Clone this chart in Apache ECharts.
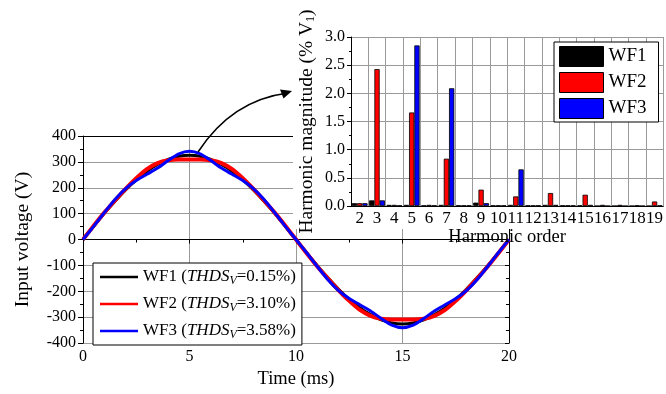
<!DOCTYPE html>
<html>
<head>
<meta charset="utf-8">
<script src="https://cdn.jsdelivr.net/npm/echarts@6/dist/echarts.min.js"></script>
<style>
html,body{margin:0;padding:0;background:#fff;}
#c{width:666px;height:394px;}
</style>
</head>
<body>
<div id="c"></div>
<script>
// ---- Main waveform data (time in ms, voltage in V) ----
const time = [0,0.5,1,1.5,2,2.5,3,3.5,4,4.5,5,5.5,6,6.5,7,7.5,8,8.5,9,9.5,10,
              10.5,11,11.5,12,12.5,13,13.5,14,14.5,15,15.5,16,16.5,17,17.5,18,18.5,19,19.5,20];
const wf1 = [0,51,101,148,192,231,264,290,310,322,326,322,310,290,264,231,192,148,101,51,0,
             -51,-101,-148,-192,-231,-264,-290,-310,-322,-326,-322,-310,-290,-264,-231,-192,-148,-101,-51,0];
const wf2 = [0,53,104,151,196,237,272,295,306,309,309,309,306,295,272,237,196,151,104,53,0,
             -53,-104,-151,-196,-237,-272,-295,-306,-309,-309,-309,-306,-295,-272,-237,-196,-151,-104,-53,0];
const wf3 = [0,51,104,155,197,228,252,276,305,331,341,331,305,276,252,228,197,155,104,51,0,
             -51,-104,-155,-197,-228,-252,-276,-305,-331,-341,-331,-305,-276,-252,-228,-197,-155,-104,-51,0];
const waveNames = ['WF1','WF2','WF3'];
const thdValues = ['0.15%','3.10%','3.58%'];

// ---- Inset harmonic spectrum (% of V1) ----
const harmonicOrders = ['2','3','4','5','6','7','8','9','10','11','12','13','14','15','16','17','18','19'];
const hWF1 = [0.05,0.10,0.02,0.02,0.01,0.02,0.01,0.06,0.01,0.02,0.01,0.02,0.01,0.01,0.00,0.00,0.00,0.00];
const hWF2 = [0.05,2.43,0.02,1.66,0.02,0.84,0.01,0.29,0.01,0.17,0.01,0.23,0.01,0.20,0.02,0.02,0.01,0.08];
const hWF3 = [0.05,0.10,0.01,2.85,0.01,2.09,0.01,0.05,0.01,0.65,0.01,0.02,0.01,0.02,0.00,0.00,0.00,0.01];

const colors = ['#000000','#ff0000','#0000ff'];
const FONT = "'Liberation Serif','Times New Roman',serif";

const chart = echarts.init(document.getElementById('c'), null, {renderer:'canvas'});

const lineData = [wf1, wf2, wf3].map(arr => arr.map((v, i) => [time[i], v]));
const lineNames = waveNames.map((n, i) => n + ' (THDSV=' + thdValues[i] + ')');
const lineWidths = [3, 4, 3];

const series = [];
lineData.forEach((d, i) => {
  series.push({
    type: 'line', name: lineNames[i], data: d,
    xAxisIndex: 0, yAxisIndex: 0,
    showSymbol: false, smooth: 0.25,
    lineStyle: {color: colors[i], width: lineWidths[i]},
    itemStyle: {color: colors[i]},
    z: 2 + i
  });
});
[hWF1, hWF2, hWF3].forEach((d, i) => {
  series.push({
    type: 'bar', name: waveNames[i], data: d,
    xAxisIndex: 2, yAxisIndex: 2,
    barGap: '0%', barCategoryGap: '9%',
    itemStyle: {color: colors[i], borderColor: '#000', borderWidth: 0.8},
    z: 12
  });
});

const axisText = {color: '#000', fontFamily: FONT, fontSize: 16};
const gridLine = {show: true, lineStyle: {color: '#9a9a9a', width: 1}};

const option = {
  animation: false,
  backgroundColor: '#fff',
  textStyle: {fontFamily: FONT},
  grid: [
    {left: 83, top: 136, width: 426, height: 213, containLabel: false},
    {left: 351, top: 37, width: 315, height: 169, containLabel: false, z: 10}
  ],
  xAxis: [
    {
      type: 'value', gridIndex: 0, min: 0, max: 20, interval: 5,
      name: 'Time (ms)', nameLocation: 'middle', nameGap: 24,
      nameTextStyle: {color: '#000', fontFamily: FONT, fontSize: 18.5},
      axisLine: {show: true, lineStyle: {color: '#000', width: 1}},
      axisTick: {show: true, length: 4, lineStyle: {color: '#000'}},
      minorTick: {show: true, splitNumber: 2, length: 3, lineStyle: {color: '#000'}},
      axisLabel: Object.assign({margin: 6}, axisText),
      splitLine: gridLine
    },
    {
      type: 'value', gridIndex: 0, min: 0, max: 20, interval: 5, position: 'top',
      axisLine: {show: true, onZero: false, lineStyle: {color: '#000', width: 1}},
      axisTick: {show: false}, axisLabel: {show: false}, splitLine: {show: false}
    },
    {
      type: 'category', gridIndex: 1, data: harmonicOrders, boundaryGap: true,
      name: 'Harmonic order', nameLocation: 'middle', nameGap: 20,
      nameTextStyle: {color: '#000', fontFamily: FONT, fontSize: 18.5},
      axisLine: {show: true, lineStyle: {color: '#000', width: 1}},
      axisTick: {show: false},
      axisLabel: Object.assign({}, axisText, {margin: 4, interval: 0, fontSize: 17}),
      splitLine: {show: true, interval: 0, lineStyle: {color: '#9a9a9a', width: 1}},
      z: 10
    }
  ],
  yAxis: [
    {
      type: 'value', gridIndex: 0, min: -400, max: 400, interval: 100,
      name: 'Input voltage (V)', nameLocation: 'middle', nameGap: 50,
      nameTextStyle: {color: '#000', fontFamily: FONT, fontSize: 19.5},
      axisLine: {show: true, onZero: false, lineStyle: {color: '#000', width: 1}},
      axisTick: {show: true, length: 5, lineStyle: {color: '#000'}},
      minorTick: {show: true, splitNumber: 2, length: 3, lineStyle: {color: '#000'}},
      axisLabel: Object.assign({margin: 7}, axisText),
      splitLine: gridLine
    },
    {
      type: 'value', gridIndex: 0, min: -400, max: 400, interval: 100, position: 'right',
      axisLine: {show: true, onZero: false, lineStyle: {color: '#000', width: 1}},
      axisTick: {show: true, inside: true, length: 4, lineStyle: {color: '#000'}},
      minorTick: {show: true, splitNumber: 2, length: 3, lineStyle: {color: '#000'}},
      axisLabel: {show: false}, splitLine: {show: false}
    },
    {
      type: 'value', gridIndex: 1, min: 0, max: 3, interval: 0.5,
      name: 'Harmonic magnitude (% V{sub|1})', nameLocation: 'middle', nameGap: 34,
      nameTextStyle: {color: '#000', fontFamily: FONT, fontSize: 19.5,
        rich: {sub: {fontFamily: FONT, fontSize: 12, verticalAlign: 'bottom', color: '#000'}}},
      axisLine: {show: true, lineStyle: {color: '#000', width: 1}},
      axisTick: {show: true, length: 4, lineStyle: {color: '#000'}},
      minorTick: {show: true, splitNumber: 2, length: 2, lineStyle: {color: '#000'}},
      axisLabel: Object.assign({margin: 6, formatter: v => v.toFixed(1)}, axisText),
      splitLine: gridLine,
      z: 10
    }
  ],
  legend: [
    {
      orient: 'vertical', left: 93, top: 263,
      data: lineNames.map(n => ({name: n, icon: 'rect'})),
      itemWidth: 38, itemHeight: 2.5, itemGap: 7,
      padding: [4, 6, 4, 7],
      backgroundColor: '#fff', borderColor: '#000', borderWidth: 1,
      selectedMode: false,
      formatter: function (name) {
        const i = lineNames.indexOf(name);
        return waveNames[i] + ' ({it|THDS}{sub|V}=' + thdValues[i] + ')';
      },
      textStyle: {
        color: '#000', fontFamily: FONT, fontSize: 17, lineHeight: 20,
        rich: {
          it: {fontFamily: FONT, fontSize: 17, fontStyle: 'italic', color: '#000'},
          sub: {fontFamily: FONT, fontSize: 12, fontStyle: 'italic', verticalAlign: 'bottom', color: '#000'}
        }
      },
      z: 6
    },
    {
      orient: 'vertical', left: 554, top: 42,
      data: waveNames.map(n => ({name: n, icon: 'rect'})),
      itemWidth: 44, itemHeight: 20, itemGap: 5,
      padding: [4, 12, 3, 5],
      backgroundColor: '#fff', borderColor: '#000', borderWidth: 1,
      selectedMode: false,
      itemStyle: {borderColor: '#000', borderWidth: 1},
      textStyle: {color: '#000', fontFamily: FONT, fontSize: 19},
      z: 14
    }
  ],
  graphic: [
    {type: 'rect', z: 5, silent: true, shape: {x: 293, y: 0, width: 373, height: 229}, style: {fill: '#fff'}},
    {type: 'bezierCurve', z: 20, silent: true,
      shape: {x1: 198, y1: 152, x2: 288, y2: 93, cpx1: 232, cpy1: 100},
      style: {stroke: '#000', lineWidth: 1.5, fill: null}},
    {type: 'polygon', z: 20, silent: true,
      shape: {points: [[292, 91], [280, 89.5], [283.5, 98.5]]},
      style: {fill: '#000'}}
  ],
  series: series
};
chart.setOption(option);
</script>
</body>
</html>
